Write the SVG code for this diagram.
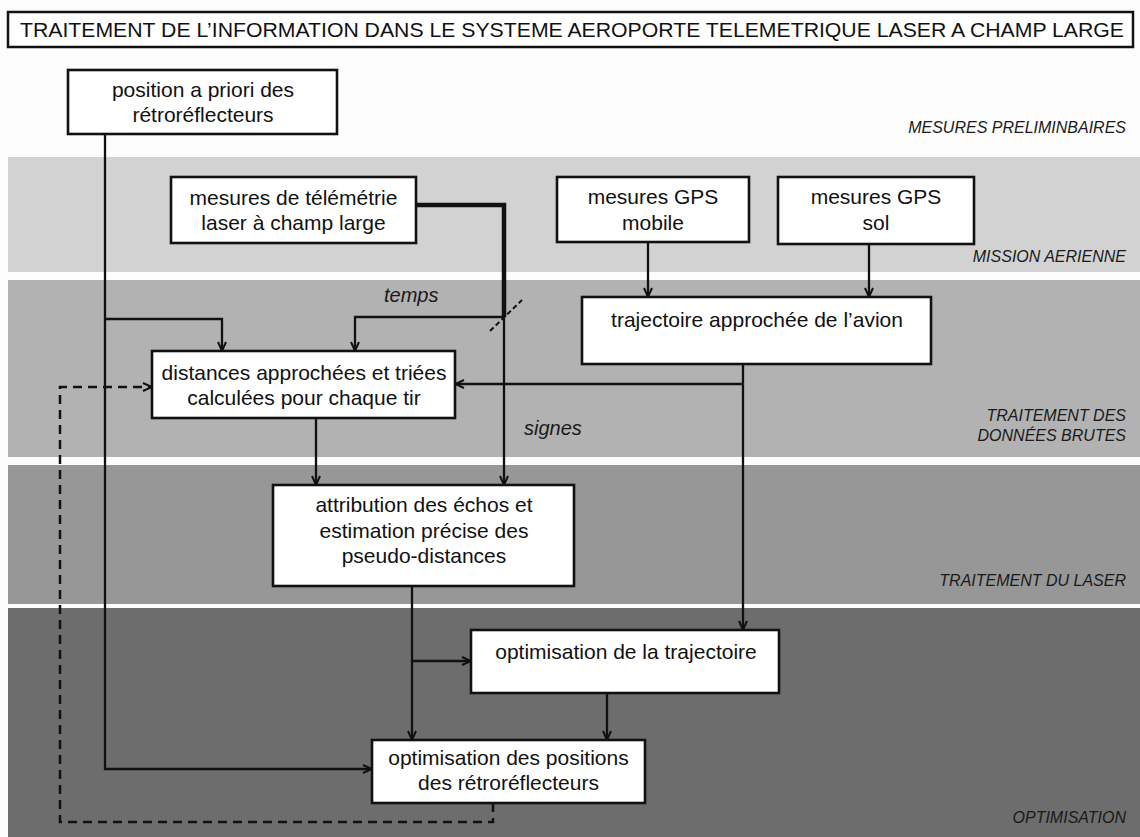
<svg xmlns="http://www.w3.org/2000/svg" width="1140" height="837" viewBox="0 0 1140 837">
<defs>
<style>
.node rect{fill:#fff;stroke:#111;stroke-width:2.6}
.node text{font-family:"Liberation Sans",Arial,sans-serif;font-size:21px;fill:#111;text-anchor:middle}
.band{font-family:"Liberation Sans",Arial,sans-serif;font-size:16px;font-style:italic;fill:#1a1a1a;text-anchor:end}
.lbl{font-family:"Liberation Sans",Arial,sans-serif;font-size:20px;font-style:italic;fill:#1a1a1a}
.c{fill:none;stroke:#111;stroke-width:2.3}
.a{marker-end:url(#arr)}
.thick{fill:none;stroke:#111;stroke-width:4.5}
.dash{fill:none;stroke:#111;stroke-width:2.5;stroke-dasharray:9 6}
</style>
<marker id="arr" viewBox="0 0 10 10" refX="10" refY="5" markerWidth="10" markerHeight="10" markerUnits="userSpaceOnUse" orient="auto">
<path d="M1,1 L10,5 L1,9" fill="none" stroke="#111" stroke-width="2"/>
</marker>
</defs>
<rect width="1140" height="837" fill="#fcfcfc"/>
<g id="bands">
<rect x="8" y="157" width="1132" height="115" fill="#d2d2d2"/>
<rect x="8" y="280" width="1132" height="177" fill="#b2b2b2"/>
<rect x="8" y="465" width="1132" height="139" fill="#979797"/>
<rect x="8" y="608" width="1132" height="229" fill="#6d6d6d"/>
<text class="band" x="1126" y="133">MESURES PRELIMINBAIRES</text>
<text class="band" x="1126" y="262">MISSION AERIENNE</text>
<text class="band" x="1126" y="421">TRAITEMENT DES</text>
<text class="band" x="1126" y="441">DONNÉES BRUTES</text>
<text class="band" x="1126" y="586">TRAITEMENT DU LASER</text>
<text class="band" x="1126" y="823">OPTIMISATION</text>
</g>
<g id="title">
<rect x="8" y="12" width="1125" height="35" fill="#fff" stroke="#111" stroke-width="2.5"/>
<text x="20" y="37" font-family="'Liberation Sans',Arial,sans-serif" font-size="21" fill="#111" textLength="1104" lengthAdjust="spacingAndGlyphs">TRAITEMENT DE L’INFORMATION DANS LE SYSTEME AEROPORTE TELEMETRIQUE LASER A CHAMP LARGE</text>
</g>
<g id="connectors">
<path class="c a" d="M105,134 V769 H372"/>
<path class="c a" d="M105,319 H222 V351"/>
<path class="thick" d="M416,205 H504 V317"/>
<path class="c a" d="M504,315 V485"/>
<path class="c a" d="M504,317 H355 V351"/>
<path d="M490,331 L522,300" fill="none" stroke="#111" stroke-width="2" stroke-dasharray="5 3"/>
<path class="c a" d="M316,418 V485"/>
<path class="c a" d="M648,242 V297"/>
<path class="c a" d="M869,244 V297"/>
<path class="c a" d="M743,364 V630"/>
<path class="c a" d="M743,384 H455"/>
<path class="c a" d="M412,586 V740"/>
<path class="c a" d="M412,661 H471"/>
<path class="c a" d="M607,693 V740"/>
<path class="dash a" d="M493,803 V822 H60 V387 H152"/>
<text class="lbl" x="384" y="302">temps</text>
<text class="lbl" x="524" y="435">signes</text>
</g>
<g id="n-position" class="node">
<rect x="68" y="70" width="269" height="64"/>
<text x="203" y="97">position a priori des</text>
<text x="203" y="122">rétroréflecteurs</text>
</g>
<g id="n-telemetrie" class="node">
<rect x="171" y="177" width="245" height="66"/>
<text x="293.5" y="205">mesures de télémétrie</text>
<text x="293.5" y="230">laser à champ large</text>
</g>
<g id="n-gps-mobile" class="node">
<rect x="557" y="177" width="192" height="65"/>
<text x="653" y="204">mesures GPS</text>
<text x="653" y="230">mobile</text>
</g>
<g id="n-gps-sol" class="node">
<rect x="778" y="177" width="196" height="67"/>
<text x="876" y="204">mesures GPS</text>
<text x="876" y="230">sol</text>
</g>
<g id="n-trajectoire" class="node">
<rect x="582" y="297" width="349" height="67"/>
<text x="757" y="327">trajectoire approchée de l’avion</text>
</g>
<g id="n-distances" class="node">
<rect x="152" y="351" width="303" height="67"/>
<text x="304" y="380">distances approchées et triées</text>
<text x="304" y="405">calculées pour chaque tir</text>
</g>
<g id="n-attribution" class="node">
<rect x="273" y="485" width="301" height="101"/>
<text x="424" y="512">attribution des échos et</text>
<text x="424" y="538">estimation précise des</text>
<text x="424" y="563">pseudo-distances</text>
</g>
<g id="n-opt-trajectoire" class="node">
<rect x="471" y="630" width="308" height="63"/>
<text x="626" y="659">optimisation de la trajectoire</text>
</g>
<g id="n-opt-positions" class="node">
<rect x="372" y="740" width="273" height="63"/>
<text x="508.5" y="765">optimisation des positions</text>
<text x="508.5" y="790">des rétroréflecteurs</text>
</g>
</svg>
